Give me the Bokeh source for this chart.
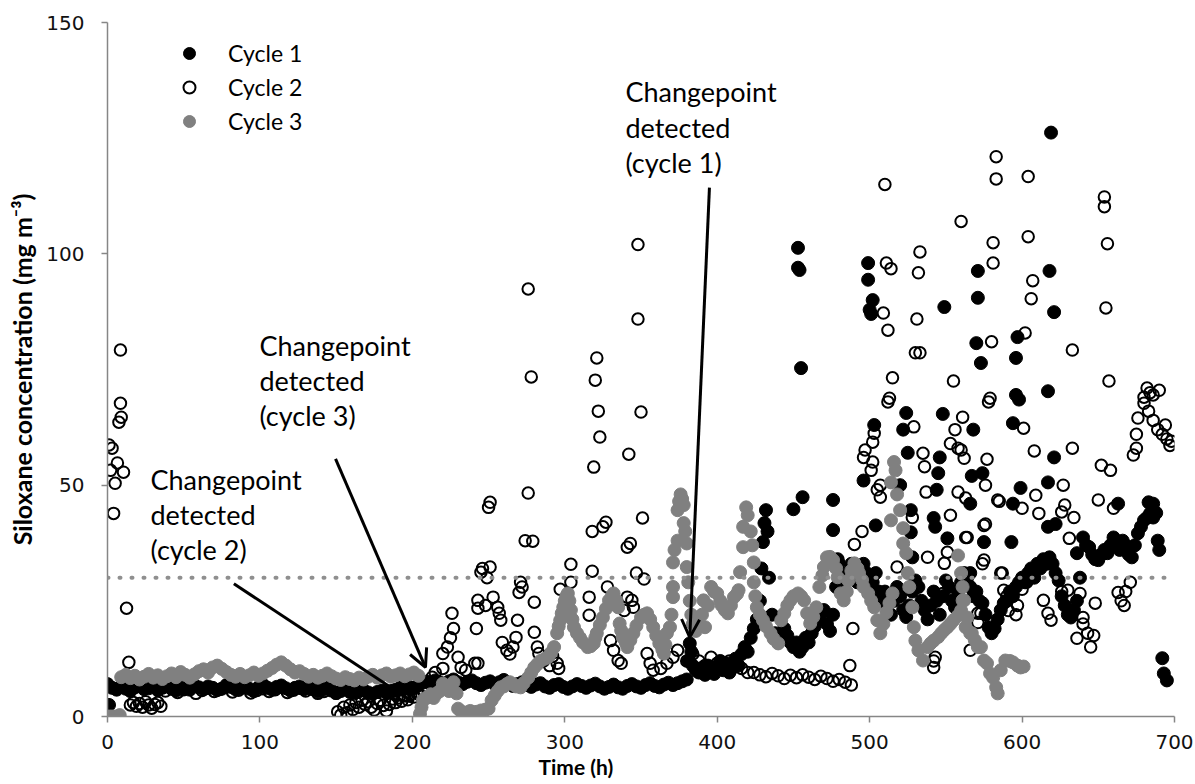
import numpy as np
from bokeh.plotting import figure
from bokeh.models import Range1d, Span, Arrow, OpenHead, Label, Legend, LegendItem, Title
from bokeh.embed import file_html
from bokeh.resources import INLINE

# ---------------- data ----------------
x_ticks = [0, 100, 200, 300, 400, 500, 600, 700]
y_ticks = [0, 50, 100, 150]
threshold = 30
x_title = "Time (h)"
y_title = "Siloxane concentration (mg m⁻³)"

# Cycle 1 (black filled)
c1_a_start, c1_a_step = 0, 3
c1_a_v = [7.0, 6.2, 5.8, 6.5, 6.0, 5.5, 6.3, 6.8, 5.9, 6.1, 6.6, 5.7, 6.2, 6.9, 6.0, 5.6, 6.4, 6.1, 5.8, 6.7,
          6.3, 5.9, 6.5, 6.2, 5.7, 6.0, 6.8, 6.4, 5.9, 6.1, 6.6, 6.0, 5.5, 6.3, 6.9, 6.2, 5.8, 6.4, 6.7, 6.1,
          5.6, 6.2, 6.5, 5.9, 6.3, 6.0, 5.4, 5.8, 6.2, 5.6, 5.1, 5.5, 5.9, 5.3, 5.0, 5.4, 5.7, 5.2, 4.9, 5.3,
          5.6, 5.1, 5.5, 5.8, 6.2, 6.0, 6.4]
c1_b_start, c1_b_step = 200, 3
c1_b_v = [6.0, 6.5, 7.2, 7.5, 7.0, 7.8, 7.4, 7.0, 7.6, 8.0, 7.4, 7.0, 7.5, 7.8, 7.2, 6.8, 7.3, 7.6, 7.0, 7.4,
          7.9, 7.2, 6.6, 7.0, 7.4, 6.8, 6.4, 6.9, 7.2, 6.5, 6.2, 6.8, 7.0, 6.4, 6.0, 6.5, 7.0, 6.6, 6.2, 6.7,
          7.1, 6.5, 6.0, 6.4, 6.9, 6.3, 6.0, 6.6, 7.0, 6.5, 6.2, 6.8, 7.2, 6.6, 6.3, 6.9, 7.3, 6.8, 7.2, 7.6, 8.0]
c1_c_start, c1_c_step = 382, 2
c1_c_v = [15.8, 11, 10, 9.5, 10.5, 9, 11, 10, 9.2, 10.8, 12, 10, 11.5, 9.5, 10.5, 12.5, 11, 13.5, 15, 14,
          17, 19, 21, 25, 37.7, 44.6, 30, 22, 18, 16, 17, 19, 17.5, 16, 15, 16, 14, 15, 17, 16,
          18, 19.5, 21, 22.3, 23, 20, 18.5, 22, 28, 33, 30, 29.4, 31, 33, 32, 29, 30.5, 33, 31, 28,
          29, 31, 27, 25, 27, 24, 22, 25, 28, 26, 23, 21.5, 24, 27, 29.4, 28, 25, 23, 21, 24,
          27, 25, 22, 26, 29.4, 28, 25, 23.6, 27, 29, 31, 30, 28, 26, 27, 25, 24.5, 22, 19.3, 18,
          19, 21, 23, 24.5, 25, 27, 26, 28, 29, 30, 29, 31, 32, 30, 33, 32, 34, 33, 34.4, 33,
          31, 29.4, 26, 24, 22, 21.4, 23, 25, 30, 38.7, 37, 36.6, 35, 34, 33.8, 35, 36, 35.3, 37, 38.7,
          37, 36, 38, 37, 35, 34.4, 37, 39.6, 41, 42.4, 43, 43.9, 46, 44, 36]
c1_out_t = [1, 381, 383, 429, 431, 433, 479, 689, 692, 693, 695, 450, 453, 453, 454, 455, 456, 476, 476,
            496, 499, 499, 500, 501, 502, 503, 504, 520, 522, 524, 525, 527, 527, 528, 542, 543, 544, 545,
            546, 548, 549, 551, 566, 566, 567, 568, 570, 571, 571, 573, 574, 575, 593, 594, 594, 596, 596,
            597, 598, 599, 617, 617, 617, 618, 619, 621, 621, 622, 636, 663, 683, 686]
c1_out_v = [2.5, 12, 14, 32, 41.8, 40, 34, 38, 12.6, 9.3, 7.8, 44.8, 101.3, 97, 96.5, 75.3, 47.4, 46.8, 40.3,
            51, 98, 94.4, 87.9, 87, 90, 63, 41.3, 50, 62, 65.6, 57, 44.6, 39.8, 34.4, 42.9, 41, 49, 52.6,
            56, 65.4, 88.5, 38.5, 31, 46, 52, 62, 80.7, 96.3, 90.5, 76.4, 52.6, 37.7, 37.7, 63.4, 46, 77.5, 69.5,
            82, 68.5, 49.4, 70.3, 50.6, 41, 96.3, 126.2, 87.4, 56, 41.6, 35.3, 46, 46.3, 43]

# Cycle 2 (open circles)
c2_early_t = [8.5, 8.5, 9, 7.5, 1, 3, 6.5, 2, 10.5, 5, 4, 12.5, 14,
              15, 17, 19, 21, 23, 25, 27, 29, 31, 33, 35]
c2_early_v = [79.2, 67.7, 64.7, 63.6, 58.7, 58, 54.8, 53.2, 52.8, 50.4, 43.9, 23.4, 11.7,
              2.5, 3, 2.2, 2.8, 2, 3.2, 2.5, 1.8, 2.6, 3, 2.2]
c2_a_start, c2_a_step = 38, 4
c2_a_v = [5.5, 6.0, 5.2, 5.8, 6.3, 5.0, 5.6, 6.1, 5.4, 5.9, 6.4, 5.3, 5.7, 6.2, 5.1, 5.6, 6.0, 5.4, 5.8, 6.3,
          5.2, 5.7, 6.1, 5.5, 5.9, 5.0, 5.4, 5.8]
c2_b_start, c2_b_step = 151, 2
c2_b_v = [1, 0.3, 2, 0.8, 2.5, 1.5, 3, 2, 3.5, 2.6, 3.2, 2, 1.4, 2.8, 3.5, 2.4, 1.2, 2.6, 3.8, 3,
          4, 3.3, 4.5, 3.6, 4.8, 4.2, 5.3, 4.6, 5.8, 6.5, 7.5, 8.5, 9.5]
c2_c_start, c2_c_step = 380, 4
c2_c_v = [12, 13.5, 12, 11, 12.8, 11.5, 10.6, 12, 11, 10.4, 9.5, 9.5, 9, 8.6, 9.3, 8.8, 8.2, 8.9, 8.4, 9,
          8.5, 8, 8.7, 8.2, 7.6, 8, 7.4, 6.8]
c2_out_t = [150, 220, 220, 223, 225, 227, 226, 230, 232, 235, 241, 243, 242, 243, 243, 245, 246, 248, 249, 250,
            251, 251, 253, 256, 257, 258, 259, 262, 264, 266, 268, 269, 270, 271, 272, 274, 276, 278, 276, 279,
            280, 280, 282, 283, 286, 290, 292, 295, 296, 297, 304, 304, 316, 316, 318, 318, 319, 320, 321, 322,
            323, 325, 327, 328, 330, 332, 335, 337, 339, 341, 341, 342, 343, 344, 345, 347, 348, 348, 350, 351,
            352, 354, 356, 358, 363, 367, 371, 374,
            487, 489, 490, 495, 496, 497, 501, 502, 502, 503, 505, 507, 507, 509, 510, 511, 512, 512, 513, 514,
            515, 518, 529, 530, 531, 532, 533, 533, 535, 536, 537, 538, 528, 542, 542, 543, 548, 549, 551, 553,
            553, 555, 556, 558, 558, 560, 560, 561, 562, 563, 563, 564, 566, 571, 571, 573, 574, 575, 575, 576,
            576, 577, 578, 579, 580, 581, 581, 583, 583, 584, 585, 586, 587, 588, 590, 591, 593, 596, 597, 600,
            600, 601, 602, 603, 604, 604, 606, 607, 608, 609, 611, 614, 617, 619, 626, 626, 627, 628, 630, 631,
            633, 633, 634, 636, 638, 640, 640, 643, 645, 647, 648, 650, 652, 654, 654, 655, 656, 657, 658, 660,
            663, 665, 667, 668, 671, 673, 675, 675, 676, 680, 680, 682, 683, 684, 686, 686, 689, 690, 692, 694,
            695, 697, 698]
c2_out_v = [5, 10.4, 13.6, 15, 17, 19, 22.3, 12.8, 10.6, 10, 11.5, 11.5, 19, 25.1, 23.4, 31.2, 32, 24, 30, 45.2,
            46.3, 32.3, 25.8, 23.6, 22.3, 20.8, 16, 14.3, 13.5, 15, 17.1, 20.8, 26.8, 29, 28, 38, 48.3, 73.4, 92.4, 37.9,
            24.7, 18.2, 15, 13.6, 12, 11, 13, 11.5, 10.4, 27.5, 29, 32.9, 25.8, 21.9, 40, 31.4, 53.9, 72.7, 77.5, 66,
            60.4, 41, 42, 28, 16.4, 14.3, 12.1, 11.5, 22.9, 36.6, 25.8, 56.7, 37.4, 25.1, 23.6, 31, 85.9, 102, 65.8, 42.9,
            29.7, 13.6, 11.5, 10, 10.4, 11.5, 12.8, 14.3,
            11, 19, 37.2, 40, 56, 57.6, 53.2, 55, 59.3, 61.2, 49, 50, 47.4, 87.2, 115, 98, 68, 83.5, 68.8, 96.8,
            73.2, 32.3, 62.6, 78.6, 85.9, 95.9, 100.4, 78.6, 56.9, 54, 48.5, 34.4, 43, 10.6, 12, 12.8, 26.6, 33.1, 35.5, 59,
            43.5, 72.5, 62, 58, 48.5, 107, 57.6, 64.7, 55.8, 47.2, 38.7, 38.7, 14.3, 22.3, 20.3, 22.3, 33, 33.8, 41.3, 41.6,
            50, 55.6, 68, 68.8, 81, 98, 102.4, 116.2, 121, 46.8, 46.5, 31, 31, 27.3, 26, 22.9, 26.5, 22, 24, 27.5,
            45, 62.3, 82.9, 29, 103.7, 116.7, 90.3, 94.2, 57.4, 47.8, 43.9, 25.1, 22.3, 20.8, 27, 44.2, 50, 45.7, 27.3, 38.5,
            58, 79.2, 43, 16.9, 26.6, 21.4, 20, 18, 15, 17.5, 24.5, 46.8, 54.3, 110.2, 112.3, 88.3, 102.2, 72.5, 53.2, 45,
            26.8, 25, 24, 27, 29, 56.5, 58, 61, 64.5, 67.7, 69, 71, 66, 70, 64, 69.5, 62, 70.5, 61, 63,
            60, 58.6, 59.5]

# Cycle 3 (grey filled)
c3_a_t = [0, 2, 4, 6, 8]
c3_a_v = [0, 0, 0, 0, 0.3]
c3_b_start, c3_b_step = 9, 3
c3_b_v = [8.5, 9, 8.3, 8.8, 8, 8.6, 9.2, 8.4, 8.9, 8.1, 8.7, 9.3, 8.5, 9.6, 9, 8.4, 9.1, 9.8, 10.2, 9.5,
          10.6, 11, 10.3, 9.6, 9, 8.6, 9.2, 8.5, 8.9, 9.5, 8.8, 9.3, 9.9, 10.5, 11.2, 11.7, 11, 10.2, 9.5, 9.8,
          9.2, 8.6, 9, 8.4, 8.8, 9.3, 8.7, 8.2, 7.9, 8.5, 8.1, 7.8, 8.4, 8, 8.6, 9, 8.4, 8.9, 9.3, 8.6,
          8.9, 9.3, 8.7, 9.1, 9.5, 8.8]
c3_c_t = [205, 206, 207, 209, 210, 212, 214, 216, 218, 220, 222, 224, 227, 229, 230, 232, 234, 236, 238, 240,
          242, 245, 248, 250, 252, 254, 256, 258, 260, 262, 264, 266, 268, 271, 273, 276, 278, 280, 282, 284,
          287, 289, 291, 293, 295, 296, 297, 298, 299, 300, 301, 302, 303, 304, 305, 306, 308, 310, 312, 315,
          317, 319, 320, 321, 323, 325, 327, 329, 331, 332, 334, 335, 336, 337, 338, 340, 341, 343, 345, 347,
          350, 352, 354, 356, 358, 360, 362, 364, 365, 366, 367, 369, 370, 371, 371, 371, 372, 374, 374, 375,
          376, 377, 378, 378, 379, 380, 380, 381, 382, 383, 384, 386, 388, 390, 391, 392, 394, 396, 398, 400,
          402, 403, 405, 407, 409, 411, 413, 414, 415, 417, 417, 419, 420, 422, 423, 424, 424, 425, 426, 428,
          430, 432, 435, 437, 440, 442, 444, 446, 448, 450, 453, 455, 457, 459, 461, 463, 465, 467, 469, 470,
          472, 474, 476, 478, 479, 481, 483, 485, 486, 488, 490, 492, 493, 495, 496, 499, 501, 503, 505, 507,
          509, 511, 513, 515, 514, 514, 516, 517, 518, 520, 522, 522, 524, 525, 526, 528, 529, 530, 532, 535,
          538, 540, 542, 545, 547, 549, 551, 553, 555, 558, 560, 562, 558, 560, 561, 561, 563, 564, 566, 567,
          569, 571, 573, 575, 577, 579, 581, 583, 584, 586, 589, 592, 594, 597, 599, 601]
c3_c_v = [0.6, 2, 3.5, 4, 4.1, 4.8, 4, 5, 5.5, 7.1, 6, 5.5, 7.4, 5, 1.7, 1.1, 0.8, 0.9, 1.2, 0.8,
          1, 1.3, 1.5, 1.7, 3.5, 4.5, 5.5, 6.3, 6.5, 7, 7.4, 7, 6.5, 6.3, 7.2, 8.4, 9.5, 10.6, 11.3, 12,
          12.5, 12.8, 13.8, 15, 18, 19.5, 20.8, 22.3, 23.6, 25, 26, 26.6, 25, 23, 21, 19.3, 18, 17, 16, 15,
          15.2, 15.8, 17, 18, 19.8, 21.4, 23.3, 25.1, 26, 26.6, 25, 23.6, 20.1, 18.6, 17.1, 16, 15, 16.5, 18, 19.6,
          21.4, 22, 22.3, 21, 19.3, 17.5, 15.8, 14.5, 13.6, 15.5, 18, 19.3, 22, 25.8, 28, 33.3, 36, 38, 44.6, 46.5,
          48, 47, 45.7, 41.8, 40, 37.4, 32.3, 29, 25, 22, 20, 18.5, 19.5, 22, 25.1, 19.3, 24, 28, 27, 26.6,
          25, 24, 23, 22.3, 24, 25.8, 26.5, 27.3, 31.2, 36.6, 41, 45.2, 43.5, 40, 37, 33.3, 29, 26, 23.6, 22,
          20.8, 19.5, 18, 16.8, 15.8, 20.8, 22.3, 24, 25.1, 26, 26.6, 26, 25.1, 22.3, 20.1, 21.5, 23.6, 28, 30.5, 32.3,
          34.4, 34.5, 33.8, 32, 30.1, 26.6, 25.1, 27, 29.4, 31.5, 33.1, 32, 31, 29.5, 28, 26.6, 25, 23.6, 20.8, 18,
          20, 22.5, 24.5, 26.6, 42.4, 50.6, 55, 53.2, 48, 44.6, 40.7, 37.4, 35.3, 31, 28, 23.6, 19.3, 16.4, 14.3, 12.1,
          15, 15.8, 16.4, 17.2, 18, 18.7, 19.3, 20, 20.8, 21.8, 22.9, 25.1, 34.8, 31, 28, 25.1, 19.3, 21.4, 18, 18,
          16.5, 15, 15, 12.1, 11.5, 9.3, 8.4, 6.3, 5, 10, 12.1, 12, 11.7, 11, 10.6, 10.8]

# annotation texts
note_c1 = ["Changepoint", "detected", "(cycle 1)"]
note_c2 = ["Changepoint", "detected", "(cycle 2)"]
note_c3 = ["Changepoint", "detected", "(cycle 3)"]


def seg(start, step, vals):
    return [start + step * i for i in range(len(vals))]


c1_t = seg(c1_a_start, c1_a_step, c1_a_v) + seg(c1_b_start, c1_b_step, c1_b_v) + seg(c1_c_start, c1_c_step, c1_c_v) + c1_out_t
c1_v = c1_a_v + c1_b_v + c1_c_v + c1_out_v
c2_t = c2_early_t + seg(c2_a_start, c2_a_step, c2_a_v) + seg(c2_b_start, c2_b_step, c2_b_v) + seg(c2_c_start, c2_c_step, c2_c_v) + c2_out_t
c2_v = c2_early_v + c2_a_v + c2_b_v + c2_c_v + c2_out_v
c3_t = c3_a_t + seg(c3_b_start, c3_b_step, c3_b_v) + c3_c_t
c3_v = c3_a_v + c3_b_v + c3_c_v

FONT = "Lato"
TICK_FONT = "DejaVu Sans"

p = figure(width=1195, height=784, x_range=Range1d(0, 700), y_range=Range1d(0, 150),
           output_backend="svg", toolbar_location=None,
           min_border_left=107, min_border_right=21, min_border_top=22, min_border_bottom=68)
p.outline_line_color = None
p.grid.grid_line_color = None
p.background_fill_color = "white"

for ax in (p.xaxis[0], p.yaxis[0]):
    ax.axis_line_color = "#868686"
    ax.axis_line_width = 1.5
    ax.major_tick_line_color = "#868686"
    ax.major_tick_line_width = 1.5
    ax.major_tick_out = 6
    ax.major_tick_in = 0
    ax.minor_tick_line_color = None
    ax.major_label_text_font = TICK_FONT
    ax.major_label_text_font_size = "20px"
    ax.major_label_text_color = "#111111"
    ax.axis_label_text_font = FONT
    ax.axis_label_text_font_style = "bold"
    ax.axis_label_text_color = "black"

p.xaxis.ticker = x_ticks
p.yaxis.ticker = y_ticks
p.yaxis.axis_label = y_title
p.yaxis.axis_label_text_font_size = "25px"
p.xaxis.major_label_standoff = 12
p.yaxis.major_label_standoff = 17
p.yaxis.axis_label_standoff = 6

# x axis title, placed left of centre as in the original
p.add_layout(Title(text=x_title, align="left", offset=431, text_font=FONT, text_font_style="bold",
                   text_font_size="21px", text_color="black", standoff=0), "below")

p.add_layout(Span(location=threshold, dimension="width", line_color="#8f8f8f", line_width=4,
                  line_dash="1 11", line_cap="round"))

r1 = p.scatter(c1_t, c1_v, marker="circle", size=13, fill_color="black", line_color="black", line_width=1)
r2 = p.scatter(c2_t, c2_v, marker="circle", size=11.5, fill_alpha=0, line_color="black", line_width=2)
r3 = p.scatter(c3_t, c3_v, marker="circle", size=13, fill_color="#808080", line_color="#808080", line_width=1)

legend = Legend(items=[LegendItem(label="Cycle 1", renderers=[r1]),
                       LegendItem(label="Cycle 2", renderers=[r2]),
                       LegendItem(label="Cycle 3", renderers=[r3])],
                location=(67, 580), orientation="vertical",
                label_text_font=FONT, label_text_font_size="23px", label_text_color="black",
                glyph_width=30, glyph_height=30, label_height=30, spacing=4, padding=0, margin=0,
                label_standoff=24, border_line_color=None, background_fill_alpha=0)
p.add_layout(legend)

# annotations: text lines and arrows
notes = [(note_c1, 339.8, [135.0, 127.4, 119.8]),
         (note_c3, 99.7, [80.2, 72.7, 65.1]),
         (note_c2, 28.2, [51.3, 43.7, 36.1])]
for lines, x0, ys in notes:
    for txt, yy in zip(lines, ys):
        p.add_layout(Label(x=x0, y=yy, text=txt, text_font=FONT, text_font_size="27px",
                           text_color="black", text_baseline="alphabetic", text_align="left"))

arrows = [(394.9, 114.3, 382.0, 17.1),
          (149.6, 55.7, 208.6, 10.6),
          (82.9, 28.7, 200.1, 3.2)]
for xs, ys, xe, ye in arrows:
    p.add_layout(Arrow(end=OpenHead(size=18, line_width=3, line_color="black"),
                       x_start=xs, y_start=ys, x_end=xe, y_end=ye,
                       line_width=3, line_color="black"))

open("out.html", "w").write(file_html(p, INLINE))
